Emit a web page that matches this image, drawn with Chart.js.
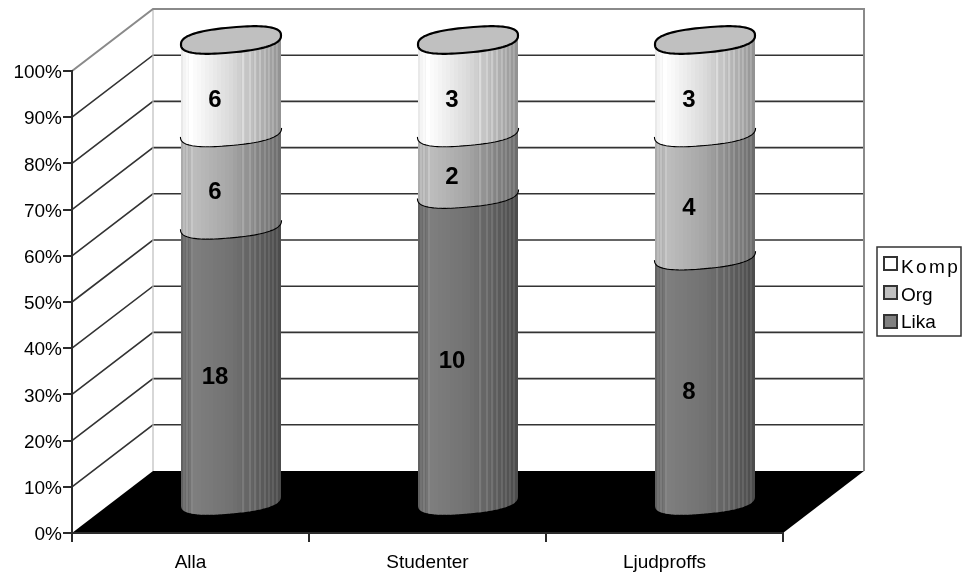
<!DOCTYPE html>
<html><head><meta charset="utf-8">
<style>html,body{margin:0;padding:0;background:#fff}canvas{display:block}</style>
<script src="https://cdn.jsdelivr.net/npm/chart.js@4"></script>
</head><body>
<canvas id="c" width="975" height="576"></canvas>
<script>
const categories = ['Alla', 'Studenter', 'Ljudproffs'];
const lika = [18, 10, 8];
const org = [6, 2, 4];
const komp = [6, 3, 3];
const seriesNames = ['Lika', 'Org', 'Komp'];
const seriesColors = ['#808080', '#c0c0c0', '#ffffff'];
const totals = categories.map((_, i) => lika[i] + org[i] + komp[i]);
const share = arr => arr.map((v, i) => v / totals[i] * 100);

const FONT = '"Liberation Sans", Arial, sans-serif';
const DX = 81, DY = -62;
const INK = '#2b2b2b';

// shade ramps: [fraction across the cylinder, grey level]
const ramps = [
  [[0, 0x5c], [.14, 0x7e], [.5, 0x72], [.75, 0x60], [1, 0x4a]],
  [[0, 0xa8], [.14, 0xbc], [.5, 0xa6], [.78, 0x84], [1, 0x6a]],
  [[0, 0xe4], [.1, 0xff], [.5, 0xda], [.8, 0xb2], [1, 0x90]]
];
const hairlines = [.025, .055, .105, .615, .685, .735, .785, .835, .875, .915, .955];
function grey(ramp, f) {
  for (let k = 1; k < ramp.length; k++) {
    if (f <= ramp[k][0]) {
      const a = ramp[k - 1], b = ramp[k];
      return a[1] + (b[1] - a[1]) * (f - a[0]) / (b[0] - a[0]);
    }
  }
  return ramp[ramp.length - 1][1];
}
const css = g => { g = Math.min(255, Math.round(g)); return `rgb(${g},${g},${g})`; };

// tilted, slightly squared ellipse point
function pt(cx, cy, a, t) {
  const b = 12.5, s = 0.09, e = 0.8;
  const c = Math.cos(t), d = Math.sin(t);
  const cc = Math.sign(c) * Math.pow(Math.abs(c), e);
  const dd = Math.sign(d) * Math.pow(Math.abs(d), e);
  return [cx + a * cc, cy - s * a * cc + b * dd];
}
function arc(ctx, cx, cy, a, forward) {
  const n = 50;
  for (let k = 0; k <= n; k++) {
    const t = forward ? Math.PI * (1 - k / n) : Math.PI * (k / n);
    const p = pt(cx, cy, a, t);
    ctx.lineTo(p[0], p[1]);
  }
}
function ellipse(ctx, cx, cy, a) {
  const n = 100;
  ctx.beginPath();
  for (let k = 0; k <= n; k++) {
    const p = pt(cx, cy, a, 2 * Math.PI * k / n);
    ctx.lineTo(p[0], p[1]);
  }
  ctx.closePath();
}

const walls = {
  id: 'walls',
  beforeDraw(chart) {
    const { ctx, chartArea: ca, scales: { y } } = chart;
    const bx = ca.left + DX, by = ca.bottom + DY, tx = ca.right + DX, ty = ca.top + DY;
    y.getLabelItems().forEach(it => { if (!it.nudged) { it.options.translation[1] += 2; it.nudged = true; } });
    ctx.save();
    ctx.fillStyle = '#fff';
    ctx.fillRect(0, 0, chart.width, chart.height);
    ctx.lineWidth = 1.6; ctx.strokeStyle = '#333';
    y.ticks.forEach(t => {
      if (t.value === 0 || t.value === 100) return;
      const py = y.getPixelForValue(t.value);
      ctx.beginPath();
      ctx.moveTo(ca.left, py); ctx.lineTo(bx, py + DY); ctx.lineTo(tx, py + DY);
      ctx.stroke();
    });
    ctx.strokeStyle = '#bdbdbd'; ctx.lineWidth = 1.2;
    ctx.beginPath(); ctx.moveTo(bx, ty); ctx.lineTo(bx, by); ctx.stroke();
    ctx.strokeStyle = '#8a8a8a'; ctx.lineWidth = 2;
    ctx.beginPath(); ctx.moveTo(ca.left, ca.top); ctx.lineTo(bx, ty); ctx.lineTo(tx, ty); ctx.lineTo(tx, by); ctx.stroke();
    ctx.fillStyle = '#000';
    ctx.beginPath();
    ctx.moveTo(ca.left, ca.bottom); ctx.lineTo(bx, by); ctx.lineTo(tx, by); ctx.lineTo(ca.right, ca.bottom);
    ctx.closePath(); ctx.fill();
    ctx.restore();
  }
};

const cylinders = {
  id: 'cylinders',
  beforeDatasetDraw() { return false; },
  afterDatasetsDraw(chart) {
    const { ctx } = chart;
    ctx.save();
    chart.data.datasets.forEach((ds, di) => {
      chart.getDatasetMeta(di).data.forEach((bar, i) => {
        const cx = bar.x + DX / 2, a = bar.width / 2;
        const topY = bar.y + DY / 2, baseY = bar.base + DY / 2;
        const left = cx - a;
        // body
        ctx.save();
        ctx.beginPath();
        arc(ctx, cx, baseY, a, false);
        arc(ctx, cx, topY, a, true);
        ctx.closePath();
        ctx.clip();
        const h0 = topY - 20, h1 = baseY + 20;
        for (let x = 0; x < a * 2; x += 4) {
          ctx.fillStyle = css(grey(ramps[di], (x + 2) / (a * 2)));
          ctx.fillRect(left + x, h0, 4.5, h1 - h0);
        }
        hairlines.forEach(f => {
          ctx.fillStyle = css(grey(ramps[di], f) + 34);
          ctx.fillRect(left + f * a * 2, h0, 1, h1 - h0);
        });
        ctx.restore();
        // seam between bands
        ctx.strokeStyle = '#000'; ctx.lineWidth = 2.2;
        if (di < chart.data.datasets.length - 1) {
          ctx.beginPath();
          arc(ctx, cx, topY, a, false);
          ctx.stroke();
        } else {
          ellipse(ctx, cx, topY, a);
          ctx.fillStyle = '#c0c0c0';
          ctx.fill();
          ctx.stroke();
        }
      });
    });
    // value labels on the front of each band
    ctx.font = 'bold 24px ' + FONT;
    ctx.fillStyle = '#000';
    ctx.textAlign = 'center';
    ctx.textBaseline = 'middle';
    chart.data.datasets.forEach((ds, di) => {
      chart.getDatasetMeta(di).data.forEach((bar, i) => {
        const midY = (bar.y + bar.base) / 2 + DY / 2 + 14;
        ctx.fillText(String(ds.counts[i]), bar.x + DX / 2 - 16, midY);
      });
    });
    ctx.restore();
  }
};

const boxLegend = {
  id: 'boxLegend',
  afterDraw(chart) {
    const { ctx } = chart;
    ctx.save();
    ctx.strokeStyle = '#333'; ctx.lineWidth = 1.5;
    ctx.strokeRect(877, 247, 84, 89);
    ctx.font = '19px ' + FONT;
    ctx.textBaseline = 'middle';
    ctx.textAlign = 'left';
    [2, 1, 0].forEach((s, row) => {
      const y = [257, 286, 315][row];
      ctx.fillStyle = seriesColors[s];
      ctx.fillRect(884, y, 13, 13);
      ctx.lineWidth = 2; ctx.strokeRect(884, y, 13, 13);
      ctx.fillStyle = '#000';
      ctx.letterSpacing = s === 2 ? '2.4px' : '0px';
      ctx.fillText(seriesNames[s], 901, [268, 296, 323][row]);
    });
    ctx.restore();
  }
};

new Chart(document.getElementById('c'), {
  type: 'bar',
  data: {
    labels: categories,
    datasets: [
      { label: seriesNames[0], data: share(lika), counts: lika, backgroundColor: seriesColors[0] },
      { label: seriesNames[1], data: share(org), counts: org, backgroundColor: seriesColors[1] },
      { label: seriesNames[2], data: share(komp), counts: komp, backgroundColor: seriesColors[2] }
    ]
  },
  options: {
    responsive: false,
    animation: false,
    events: [],
    datasets: { bar: { categoryPercentage: 1, barPercentage: 100 / 237 } },
    layout: { padding: { top: 71, right: 192, left: 0, bottom: 0 } },
    plugins: { legend: { display: false }, tooltip: { enabled: false }, title: { display: false } },
    scales: {
      x: {
        stacked: true,
        afterFit: s => { s.height = 43; },
        border: { color: INK, width: 2 },
        grid: { drawOnChartArea: false, color: INK, lineWidth: 2, tickLength: 9, offset: true },
        ticks: { color: '#000', font: { family: FONT, size: 19 }, padding: 9, maxRotation: 0, autoSkip: false }
      },
      y: {
        stacked: true, min: 0, max: 100,
        afterFit: s => { s.width = 72; },
        border: { color: INK, width: 2 },
        grid: { drawOnChartArea: false, color: INK, lineWidth: 2, tickLength: 9 },
        ticks: { color: '#000', font: { family: FONT, size: 19 }, stepSize: 10, padding: 1, callback: v => v + '%' }
      }
    }
  },
  plugins: [walls, cylinders, boxLegend]
});
</script>
</body></html>
